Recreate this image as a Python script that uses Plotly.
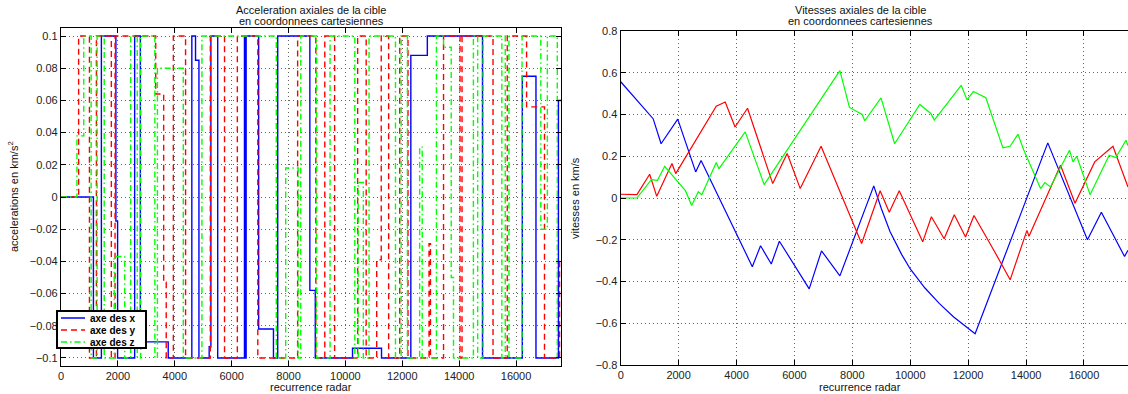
import plotly.graph_objects as go

# ---------------- data ----------------
# Left plot: axial accelerations (step signals, km/s^2)
acc_x_t = [0, 1140, 1420, 1930, 1990, 2590, 2790, 3770, 4600, 4730, 4850, 5210, 5270, 5510,
           6450, 6480, 6510, 6950, 7470, 7620, 8750, 8940, 10250, 11270, 12300, 12880,
           14820, 16220, 16700, 17490, 17580]
acc_x_v = [0, -0.1, 0.1, -0.015, -0.1, 0.1, -0.09, -0.1, 0.1, 0.085, -0.1, -0.093, 0.1, -0.1,
           0.1, -0.1, 0.1, -0.082, -0.1, 0.1, -0.058, -0.1, -0.094, -0.1, 0.088, 0.1,
           -0.1, 0.075, -0.1, 0.06, 0.06]

acc_y_t = [0, 620, 1000, 1245, 1770, 1900, 3330, 3610, 3700, 3950, 4380, 5250, 5750, 6200,
           6920, 8320, 8960, 9275, 9620, 10430, 10730, 11100, 11260, 11520, 11910, 12200,
           12940, 12990, 13450, 14030, 14100, 15190, 15690, 16370, 17000, 17530, 17580]
acc_y_v = [0, 0.1, -0.1, 0.1, -0.1, 0.1, 0.064, -0.053, -0.1, 0.1, -0.1, 0.1, -0.1, 0.1,
           -0.1, 0.1, -0.1, 0.1, -0.1, 0.1, -0.1, -0.039, 0.1, -0.1, 0.1, -0.1,
           -0.029, -0.1, 0.1, -0.1, 0.1, -0.1, 0.1, 0.056, -0.1, -0.04, -0.04]

acc_z_t = [0, 560, 800, 1060, 1270, 1520, 1870, 2240, 2450, 2680, 2800, 3300, 3390, 4300,
           4955, 7570, 7900, 8340, 8430, 8990, 9460, 10330, 10450, 10630, 10830, 11760,
           11960, 12180, 12610, 12700, 13200, 13450, 13720, 13800, 13920, 14500, 14650,
           14840, 15500, 15620, 15750, 16210, 16870, 17100, 17450, 17580]
acc_z_v = [0, 0.038, 0.1, -0.1, 0.1, -0.1, -0.037, -0.1, 0.1, -0.1, 0.1, -0.1, 0.08, -0.1,
           0.1, -0.1, 0.018, -0.1, 0.1, -0.1, 0.1, -0.1, 0.009, -0.1, 0.1, -0.1,
           0.1, -0.1, 0.031, -0.1, 0.1, 0.093, -0.05, -0.1, -0.1, 0.1, -0.1,
           0.1, -0.1, 0.1, -0.1, 0.1, -0.02, 0.1, -0.1, -0.1]

# Right plot: axial velocities (km/s)
vel_x_t = [0, 1120, 1395, 1970, 2590, 2776, 4545, 4830, 5200, 5480, 6510, 6935, 7570, 8740,
           9000, 9300, 9700, 10000, 10500, 11000, 11500, 12000, 12240, 14750, 16120, 16600,
           17400, 17520]
vel_x_v = [0.557, 0.38, 0.26, 0.378, 0.125, 0.18, -0.329, -0.229, -0.316, -0.207, -0.435,
           -0.253, -0.373, 0.058, -0.05, -0.16, -0.27, -0.34, -0.43, -0.505, -0.57, -0.625,
           -0.65, 0.264, -0.2, -0.068, -0.28, -0.25]

vel_y_t = [0, 560, 1000, 1245, 1770, 1900, 3300, 3610, 3950, 4380, 5250, 5750, 6200, 6920,
           8320, 8960, 9275, 9620, 10430, 10730, 11170, 11520, 11910, 12200, 12950, 13450,
           14030, 14100, 15190, 15690, 16370, 17000, 17520]
vel_y_v = [0.018, 0.016, 0.114, 0.008, 0.165, 0.117, 0.44, 0.46, 0.34, 0.43, 0.069, 0.213,
           0.045, 0.248, -0.218, 0.035, -0.068, 0.035, -0.21, -0.09, -0.195, -0.08, -0.187,
           -0.084, -0.266, -0.392, -0.155, -0.183, 0.157, -0.025, 0.173, 0.248, 0.053]

vel_z_t = [0, 560, 1060, 1270, 1520, 2240, 2450, 2680, 2800, 3300, 3390, 4300, 4955, 7570,
           7900, 8340, 8430, 8990, 9460, 10330, 10710, 10830, 11760, 11960, 12180, 12610,
           13200, 13450, 13720, 13920, 14500, 14650, 14840, 15500, 15620, 15750, 16210,
           16870, 17100, 17450, 17520]
vel_z_v = [0, 0, 0.088, 0.085, 0.152, 0.034, -0.036, 0.03, 0.016, 0.17, 0.14, 0.317, 0.064,
           0.61, 0.434, 0.4, 0.37, 0.48, 0.26, 0.448, 0.405, 0.373, 0.54, 0.47, 0.51, 0.48,
           0.24, 0.248, 0.306, 0.23, 0.045, 0.074, 0.053, 0.229, 0.173, 0.2, 0.016,
           0.205, 0.194, 0.277, 0.25]

x_ticks = [0, 2000, 4000, 6000, 8000, 10000, 12000, 14000, 16000]
x_tick_text = ["0", "2000", "4000", "6000", "8000", "10000", "12000", "14000", "16000"]
acc_ticks = [-0.1, -0.08, -0.06, -0.04, -0.02, 0, 0.02, 0.04, 0.06, 0.08, 0.1]
acc_tick_text = ["\u22120.1", "\u22120.08", "\u22120.06", "\u22120.04", "\u22120.02", "0",
                 "0.02", "0.04", "0.06", "0.08", "0.1"]
vel_ticks = [-0.8, -0.6, -0.4, -0.2, 0, 0.2, 0.4, 0.6, 0.8]
vel_tick_text = ["\u22120.8", "\u22120.6", "\u22120.4", "\u22120.2", "0", "0.2", "0.4", "0.6", "0.8"]

legend_names = ["axe des x", "axe des y", "axe des z"]

# ---------------- styling / layout ----------------
W, H = 1128, 394
FONT = "Liberation Sans, Arial, Helvetica, sans-serif"
BLUE, RED, GREEN = "#0000ff", "#ff0000", "#00ff00"
DASH_Y = "6px,4px"
DASH_Z = "6px,3px,1.5px,3px"


def px(x):
    return x / W


def py(y):
    return 1 - y / H


fig = go.Figure()

fig.add_trace(go.Scatter(x=acc_x_t, y=acc_x_v, mode="lines", line_shape="hv",
                         line=dict(color=BLUE, width=1.4), name=legend_names[0],
                         xaxis="x", yaxis="y"))
fig.add_trace(go.Scatter(x=acc_y_t, y=acc_y_v, mode="lines", line_shape="hv",
                         line=dict(color=RED, width=1.4, dash=DASH_Y), name=legend_names[1],
                         xaxis="x", yaxis="y"))
fig.add_trace(go.Scatter(x=acc_z_t, y=acc_z_v, mode="lines", line_shape="hv",
                         line=dict(color=GREEN, width=1.4, dash=DASH_Z), name=legend_names[2],
                         xaxis="x", yaxis="y"))

fig.add_trace(go.Scatter(x=vel_x_t, y=vel_x_v, mode="lines",
                         line=dict(color=BLUE, width=1.2), xaxis="x2", yaxis="y2"))
fig.add_trace(go.Scatter(x=vel_y_t, y=vel_y_v, mode="lines",
                         line=dict(color=RED, width=1.2), xaxis="x2", yaxis="y2"))
fig.add_trace(go.Scatter(x=vel_z_t, y=vel_z_v, mode="lines",
                         line=dict(color=GREEN, width=1.2), xaxis="x2", yaxis="y2"))

axis_common = dict(showline=True, linecolor="black", linewidth=1.3, ticks="inside",
                   ticklen=5, tickcolor="black", showgrid=True, gridcolor="#666666",
                   griddash="1px,3px", gridwidth=1, zeroline=False, automargin=False,
                   tickfont=dict(family=FONT, size=11, color="#222222"))

fig.update_layout(
    width=W, height=H, margin=dict(l=0, r=0, t=0, b=0, autoexpand=False),
    paper_bgcolor="white", plot_bgcolor="white", showlegend=False,
    xaxis=dict(domain=[px(61), px(561)], range=[0, 17580], tickvals=x_ticks,
               ticktext=x_tick_text, anchor="y", mirror="ticks", **axis_common),
    yaxis=dict(domain=[py(366), py(28)], range=[-0.105, 0.105], tickvals=acc_ticks,
               ticktext=acc_tick_text, anchor="x", mirror="ticks", **axis_common),
    xaxis2=dict(domain=[px(620.7), 1.0], range=[0, 17520], tickvals=x_ticks,
                ticktext=x_tick_text, anchor="y2", mirror="ticks", **axis_common),
    yaxis2=dict(domain=[py(365), py(31)], range=[-0.8, 0.8], tickvals=vel_ticks,
                ticktext=vel_tick_text, anchor="x2", mirror=False, **axis_common),
)

ann_font = dict(family=FONT, size=11, color="#111111")
annotations = [
    dict(text="Acceleration axiales de la cible", x=px(311), y=py(10)),
    dict(text="en coordonnees cartesiennes", x=px(311), y=py(21)),
    dict(text="Vitesses axiales de la cible", x=px(860), y=py(10)),
    dict(text="en coordonnees cartesiennes", x=px(860), y=py(21)),
    dict(text="recurrence radar", x=px(311), y=py(387)),
    dict(text="recurrence radar", x=px(860), y=py(387)),
    dict(text="accelerations en km/s<sup>2</sup>", x=px(13), y=py(197), textangle=-90),
    dict(text="vitesses en km/s", x=px(575), y=py(198), textangle=-90),
]
for a in annotations:
    a.update(xref="paper", yref="paper", showarrow=False, font=ann_font,
             xanchor="center", yanchor="middle")

# manual legend box (MATLAB style)
shapes = [dict(type="rect", xref="paper", yref="paper", x0=px(57), x1=px(146),
               y0=py(348), y1=py(311), line=dict(color="black", width=2),
               fillcolor="white", layer="above")]
leg_y = [318, 330, 342]
leg_style = [(BLUE, "solid"), (RED, DASH_Y), (GREEN, DASH_Z)]
for name, yy, (col, dash) in zip(legend_names, leg_y, leg_style):
    shapes.append(dict(type="line", xref="paper", yref="paper", x0=px(61), x1=px(85),
                       y0=py(yy), y1=py(yy), line=dict(color=col, width=1.5, dash=dash),
                       layer="above"))
    annotations.append(dict(text="<b>" + name + "</b>", x=px(88), y=py(yy), xref="paper",
                            yref="paper", showarrow=False, xanchor="left", yanchor="middle",
                            font=dict(family=FONT, size=10, color="black")))

fig.update_layout(annotations=annotations, shapes=shapes)

fig.write_html("out.html", config={"displayModeBar": False},
               post_script="document.body.style.margin='0';"
                           "document.body.style.overflow='hidden';")
